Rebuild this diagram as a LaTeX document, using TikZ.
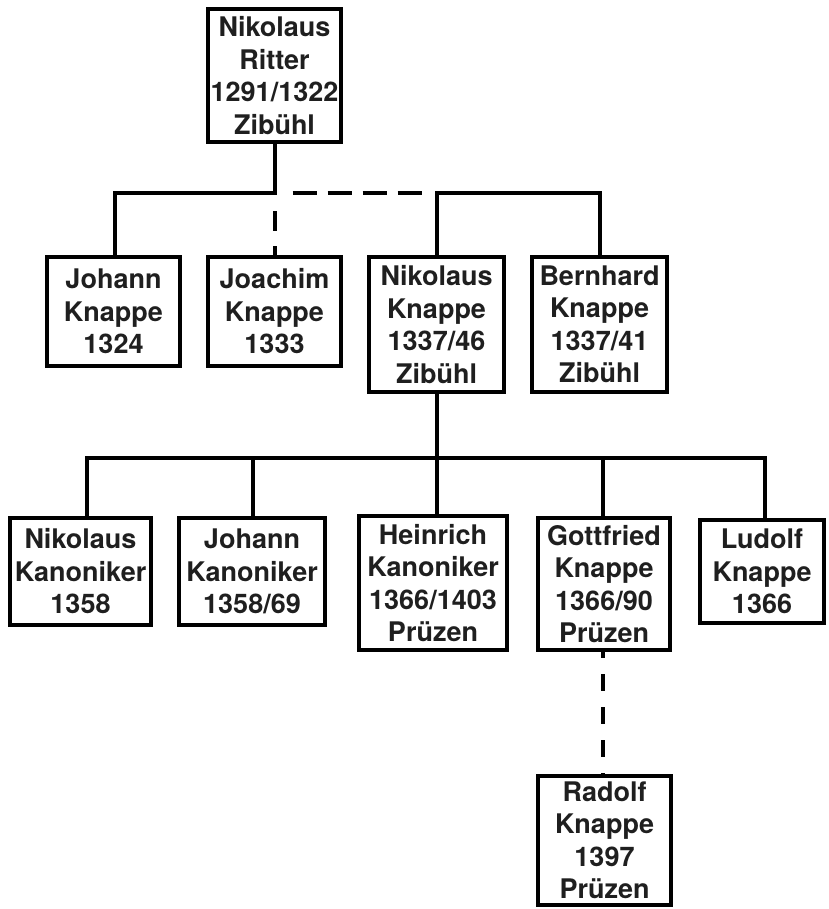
\documentclass[tikz,border=0pt]{standalone}
\usepackage{fontspec}
\setmainfont{TeX Gyre Heros}
\begin{document}
\begin{tikzpicture}[x=1pt,y=-1pt,
  person/.style={draw=black, line width=4pt, align=center, inner sep=0pt,
    font=\bfseries\fontsize{27}{32.5}\selectfont, text=black!88},
  link/.style={line width=4pt, draw=black},
  uncertain/.style={link, dash pattern=on 17pt off 16pt, dash phase=11pt},
  uncertainh/.style={link, dash pattern=on 0pt off 18pt on 24pt off 11pt on 24pt off 11pt on 24pt off 11pt on 24pt off 60pt},
  uncertainv/.style={link, dash pattern=on 9pt off 15pt on 20pt off 40pt}]
\useasboundingbox (0,0) rectangle (828,909);

% generation 1
\node[person, minimum width=133pt, minimum height=133pt] (top) at (274.5,75.5)
  {Nikolaus\\Ritter\\1291/1322\\Zibühl};

% generation 2
\node[person, minimum width=133pt, minimum height=109pt] (johann) at (113.5,311.5)
  {Johann\\Knappe\\1324};
\node[person, minimum width=133pt, minimum height=109pt] (joachim) at (274.5,311.5)
  {Joachim\\Knappe\\1333};
\node[person, minimum width=135pt, minimum height=135pt] (nk) at (436.5,324.5)
  {Nikolaus\\Knappe\\1337/46\\Zibühl};
\node[person, minimum width=135pt, minimum height=135pt] (bernhard) at (599.5,324.5)
  {Bernhard\\Knappe\\1337/41\\Zibühl};

% generation 3
\node[person, minimum width=141pt, minimum height=107pt] (nikk) at (80.5,571.5)
  {Nikolaus\\Kanoniker\\1358};
\node[person, minimum width=146pt, minimum height=107pt] (johk) at (252,571.5)
  {Johann\\Kanoniker\\1358/69};
\node[person, minimum width=148pt, minimum height=134pt] (heinrich) at (433,583)
  {Heinrich\\Kanoniker\\1366/1403\\Prüzen};
\node[person, minimum width=132pt, minimum height=132pt] (gott) at (604,584)
  {Gottfried\\Knappe\\1366/90\\Prüzen};
\node[person, minimum width=124pt, minimum height=103pt] (ludolf) at (762,571.5)
  {Ludolf\\Knappe\\1366};

% generation 4
\node[person, minimum width=133pt, minimum height=129pt] (radolf) at (604.5,840.5)
  {Radolf\\Knappe\\1397\\Prüzen};

% connectors below the first generation
\coordinate (j1) at (top.south |- 0,193);
\coordinate (j2) at (nk.north |- j1);
\draw[link] (top.south) -- (j1) -| ([xshift=1.5pt]johann.north);
\draw[uncertainv] (joachim.north) -- (j1);
\draw[uncertainh] (j1) -- (j2);
\draw[link] (nk.north) -- (j2) -| (bernhard.north);

% connectors below Nikolaus Knappe
\coordinate (bar) at (nk.south |- 0,457.5);
\draw[link] (nk.south) -- (bar);
\draw[link] ([xshift=6.5pt]nikk.north) |- ([xshift=3pt]ludolf.north |- bar) -- ([xshift=3pt]ludolf.north);
\draw[link] ([xshift=1pt]johk.north |- bar) -- ([xshift=1pt]johk.north);
\draw[link] (bar) -- (bar |- heinrich.north);
\draw[link] ([xshift=-1pt]gott.north |- bar) -- ([xshift=-1pt]gott.north);

% uncertain descent to Radolf
\draw[uncertain] ([xshift=-1pt]gott.south) -- ([xshift=-1pt]gott.south |- radolf.north);
\end{tikzpicture}
\end{document}
